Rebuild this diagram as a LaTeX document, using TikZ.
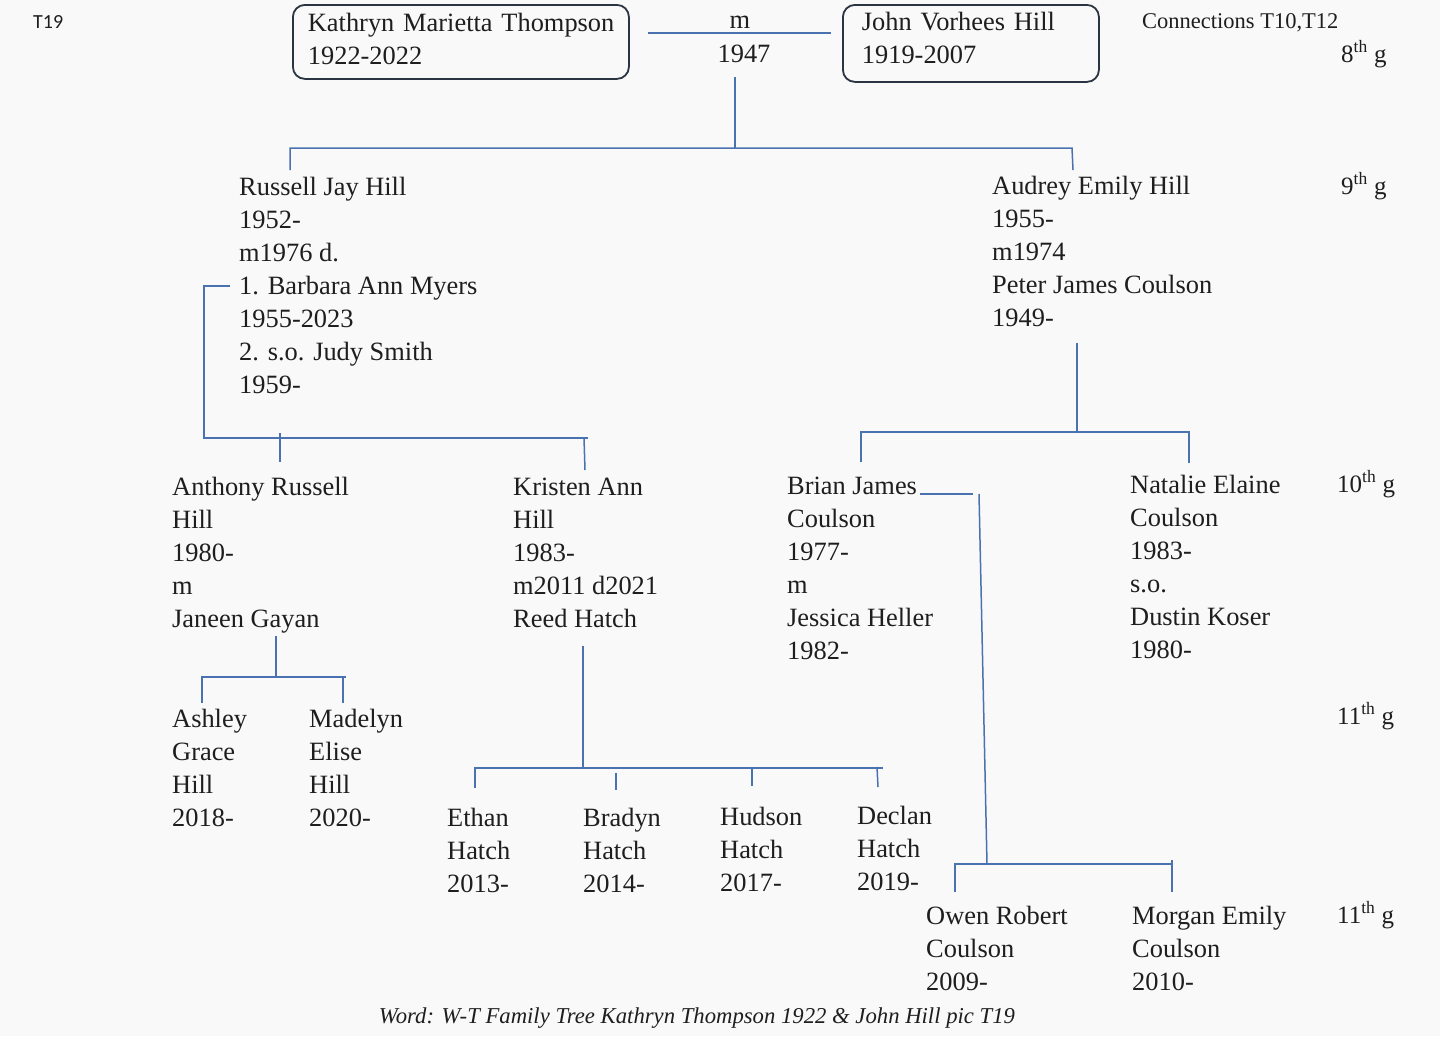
\documentclass[tikz,border=0pt]{standalone}
\usepackage{fontspec}
\setmainfont{Liberation Serif}
\newfontfamily\tagfont{Carlito}
\definecolor{lineblue}{HTML}{4A72B0}
\definecolor{ink}{HTML}{1E1E1E}
\definecolor{boxline}{HTML}{2A3442}
\definecolor{paper}{HTML}{F9F9F9}
\newcommand\fr{\rule{0pt}{19pt}}
\begin{document}
\begin{tikzpicture}[x=1pt,y=-1pt,
  person/.style={anchor=north west, inner sep=0pt, align=left, text=ink,
    font=\fontsize{26.4}{33}\selectfont},
  topbox/.style={draw=boxline, line width=1.8pt, rounded corners=12pt,
    anchor=north west, inner ysep=0pt, align=left, text=ink,
    font=\fontsize{26.4}{33}\selectfont},
  gen/.style={anchor=base west, inner sep=0pt, text=ink, font=\fontsize{25}{30}\selectfont},
  plain/.style={inner sep=0pt, text=ink},
  link/.style={draw=lineblue, line width=1.5pt}]
\fill[paper] (0,0) rectangle (1440,1036);
\useasboundingbox (0,0) rectangle (1440,1036);

% header
\node[plain, anchor=base west, font=\tagfont\fontsize{20}{22}\selectfont] (tag) at (33,28.5) {T19};
\node[topbox, inner xsep=15pt, text width=306pt, minimum height=74pt] (kath) at (292,4)
  {\mbox{Kathryn Marietta Thompson}\\1922-2022\rule[-6pt]{0pt}{0pt}};
\node[topbox, inner xsep=19pt, text width=218pt, minimum height=77pt] (john) at (842,4)
  {\mbox{John Vorhees Hill}\\1919-2007\rule[-12pt]{0pt}{0pt}};
\node[plain, anchor=base, font=\fontsize{26.4}{33}\selectfont] (mm) at (740,28) {m};
\node[plain, anchor=base, font=\fontsize{26.4}{33}\selectfont] (yr) at (744,62) {1947};
\node[plain, anchor=base west, font=\fontsize{22.5}{26}\selectfont] (conn) at (1142,28) {Connections T10,T12};
\node[gen] (g8) at (1341,62) {8\textsuperscript{th} g};

\coordinate (ml) at (648,33);
\coordinate (mr) at (831,33);
\draw[link] (ml) -- (mr);

% generation 9
\node[person] (russell) at (239,176) {\fr Russell Jay Hill\\1952-\\m1976 d.\\1. Barbara Ann Myers\\1955-2023\\2. s.o. Judy Smith\\1959-};
\node[person] (audrey) at (992,175) {\fr Audrey Emily Hill\\1955-\\m1974\\Peter James Coulson\\1949-};
\node[gen] (g9) at (1341,194) {9\textsuperscript{th} g};

\coordinate (t0) at (735,77);
\coordinate (t1) at (735,148);
\coordinate (tl) at (290,148);
\coordinate (tr) at (1072,148);
\coordinate (tld) at (290,170);
\coordinate (trd) at (1073,170);
\draw[link] (t0) -- (t1);
\draw[link] (tld) -- (tl) -- (tr) -- (trd);

% generation 10
\node[person] (anthony) at (172,476) {\fr Anthony Russell\\Hill\\1980-\\m\\Janeen Gayan};
\node[person] (kristen) at (513,476) {\fr Kristen Ann\\Hill\\1983-\\m2011 d2021\\Reed Hatch};
\node[person] (brian) at (787,475) {\fr Brian James\\Coulson\\1977-\\m\\Jessica Heller\\1982-};
\node[person] (natalie) at (1130,474) {\fr Natalie Elaine\\Coulson\\1983-\\s.o.\\Dustin Koser\\1980-};
\node[gen] (g10) at (1337,492) {10\textsuperscript{th} g};

\coordinate (r0) at (230,286);
\coordinate (r1) at (204,286);
\coordinate (r2) at (204,438);
\coordinate (r3) at (588,438);
\draw[link] (r0) -- (r1) -- (r2) -- (r3);
\draw[link] (280,433) -- (280,462);
\draw[link] (584,438) -- (585,470);

\coordinate (a0) at (1077,343);
\coordinate (a1) at (1077,432);
\draw[link] (a0) -- (a1);
\draw[link] (861,462) -- (861,432) -- (1189,432) -- (1189,463);

% generation 11
\node[person] (ashley) at (172,708) {\fr Ashley\\Grace\\Hill\\2018-};
\node[person] (madelyn) at (309,708) {\fr Madelyn\\Elise\\Hill\\2020-};
\node[gen] (g11a) at (1337,724) {11\textsuperscript{th} g};

\draw[link] (276,636) -- (276,677);
\draw[link] (202,703) -- (202,677) -- (346,677);
\draw[link] (343,677) -- (343,703);

\node[person] (ethan) at (447,807) {\fr Ethan\\Hatch\\2013-};
\node[person] (bradyn) at (583,807) {\fr Bradyn\\Hatch\\2014-};
\node[person] (hudson) at (720,806) {\fr Hudson\\Hatch\\2017-};
\node[person] (declan) at (857,805) {\fr Declan\\Hatch\\2019-};

\draw[link] (583,646) -- (583,768);
\draw[link] (475,788) -- (475,768) -- (883,768);
\draw[link] (616,773) -- (616,790);
\draw[link] (752,767) -- (752,786);
\draw[link] (877,767) -- (878,787);

\node[person] (owen) at (926,905) {\fr Owen Robert\\Coulson\\2009-};
\node[person] (morgan) at (1132,905) {\fr Morgan Emily\\Coulson\\2010-};
\node[gen] (g11b) at (1337,923) {11\textsuperscript{th} g};

\draw[link] (920,494) -- (973,494);
\draw[link] (979,494) -- (987,864);
\draw[link] (955,892) -- (955,864) -- (1172,864);
\draw[link] (1172,860) -- (1172,892);

% footer
\node[plain, anchor=base, font=\itshape\fontsize{22.7}{26}\selectfont] (foot) at (697,1023)
  {Word: W-T Family Tree Kathryn Thompson 1922 \& John Hill pic T19};
\end{tikzpicture}
\end{document}
